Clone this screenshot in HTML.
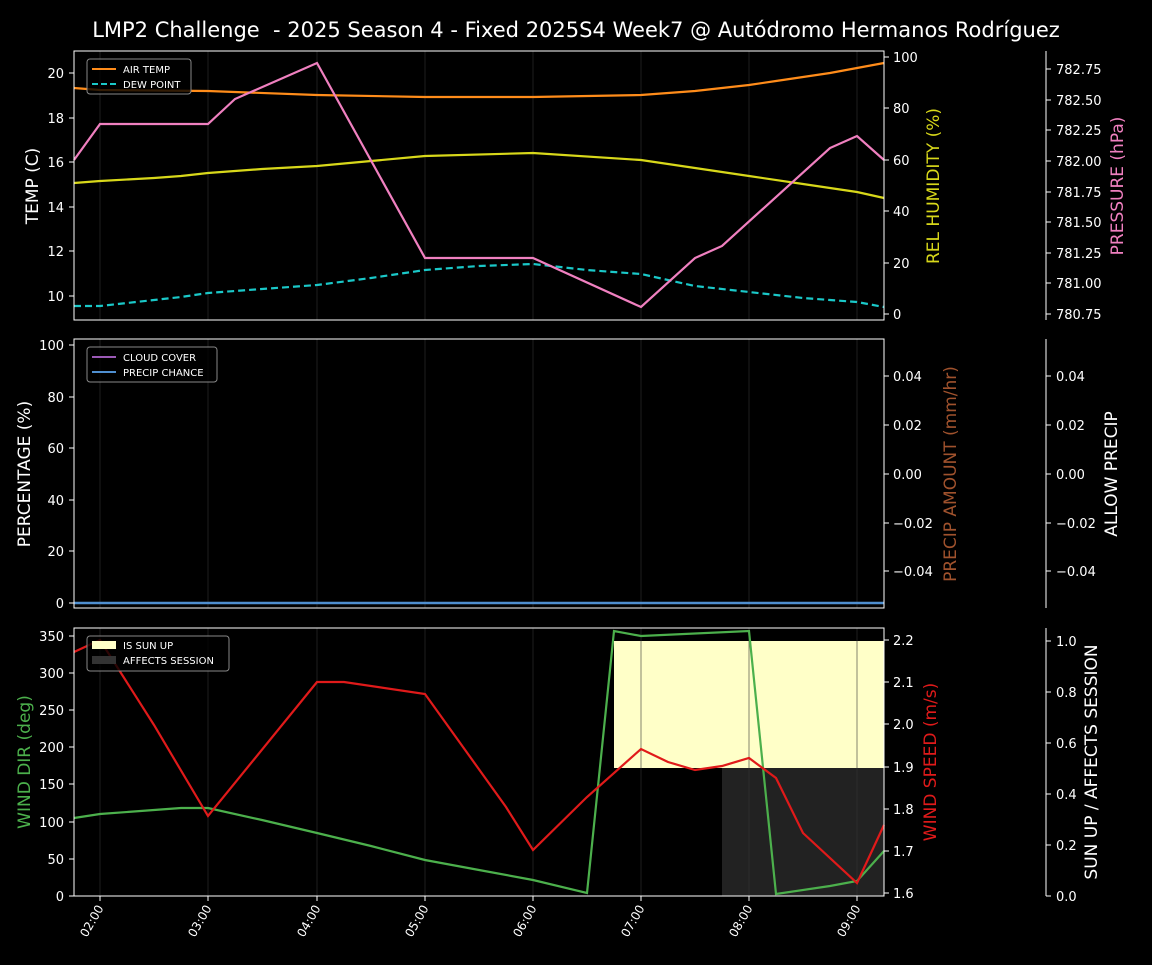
<!DOCTYPE html>
<html><head><meta charset="utf-8"><style>
html,body{margin:0;padding:0;background:#000;}
svg text{font-family:"DejaVu Sans","Liberation Sans",sans-serif;}
</style></head><body>
<svg width="1152" height="960" xmlns="http://www.w3.org/2000/svg">
<rect width="1152" height="960" fill="#000"/>
<text x="576" y="37" fill="#fff" font-size="21" text-anchor="middle" style="white-space:pre">LMP2 Challenge  - 2025 Season 4 - Fixed 2025S4 Week7 @ Autódromo Hermanos Rodríguez</text>

<g stroke="#333" stroke-width="1" opacity="0.6">
<line x1="100" y1="51" x2="100" y2="320"/><line x1="208" y1="51" x2="208" y2="320"/><line x1="317" y1="51" x2="317" y2="320"/><line x1="425" y1="51" x2="425" y2="320"/><line x1="533" y1="51" x2="533" y2="320"/><line x1="641" y1="51" x2="641" y2="320"/><line x1="749" y1="51" x2="749" y2="320"/><line x1="857" y1="51" x2="857" y2="320"/>
<line x1="100" y1="339" x2="100" y2="608"/><line x1="208" y1="339" x2="208" y2="608"/><line x1="317" y1="339" x2="317" y2="608"/><line x1="425" y1="339" x2="425" y2="608"/><line x1="533" y1="339" x2="533" y2="608"/><line x1="641" y1="339" x2="641" y2="608"/><line x1="749" y1="339" x2="749" y2="608"/><line x1="857" y1="339" x2="857" y2="608"/>
</g>

<g fill="none" stroke-width="2.2">
<polyline stroke="#ff8c1a" points="74,88 100,90 208,91 317,95 425,97 533,97 641,95 695,91 749,85 776,81 830,73 857,68 884,63"/>
<polyline stroke="#d8d81a" points="74,183 100,181 154,178 181,176 208,173 262,169 317,166 371,161 425,156 533,153 641,160 695,168 749,176 803,184 830,188 857,192 884,198"/>
<polyline stroke="#1ac8c8" stroke-dasharray="7,4" points="74,306 100,306 154,300 181,297 208,293 262,289 317,285 371,278 425,270 479,266 533,264 587,270 641,274 695,286 749,292 803,298 830,300 857,302 884,307"/>
<polyline stroke="#f080c0" points="74,160 100,124 208,124 235,99 317,63 425,258 533,258 641,307 695,258 722,246 830,148 857,136 884,160"/>
</g>
<rect x="74" y="51" width="810" height="269" fill="none" stroke="#fff" stroke-width="1"/>
<g fill="#fff" font-size="13" text-anchor="end">
<text x="64" y="78">20</text><text x="64" y="123">18</text><text x="64" y="167">16</text><text x="64" y="212">14</text><text x="64" y="256">12</text><text x="64" y="301">10</text>
</g>
<g stroke="#fff"><line x1="69" y1="73" x2="74" y2="73"/><line x1="69" y1="118" x2="74" y2="118"/><line x1="69" y1="162" x2="74" y2="162"/><line x1="69" y1="207" x2="74" y2="207"/><line x1="69" y1="251" x2="74" y2="251"/><line x1="69" y1="296" x2="74" y2="296"/>
<line x1="884" y1="57" x2="889" y2="57"/><line x1="884" y1="108" x2="889" y2="108"/><line x1="884" y1="160" x2="889" y2="160"/><line x1="884" y1="211" x2="889" y2="211"/><line x1="884" y1="263" x2="889" y2="263"/><line x1="884" y1="314" x2="889" y2="314"/>
<line x1="1046" y1="51" x2="1046" y2="320"/>
<line x1="1046" y1="69" x2="1051" y2="69"/><line x1="1046" y1="100" x2="1051" y2="100"/><line x1="1046" y1="130" x2="1051" y2="130"/><line x1="1046" y1="161" x2="1051" y2="161"/><line x1="1046" y1="192" x2="1051" y2="192"/><line x1="1046" y1="222" x2="1051" y2="222"/><line x1="1046" y1="253" x2="1051" y2="253"/><line x1="1046" y1="283" x2="1051" y2="283"/><line x1="1046" y1="314" x2="1051" y2="314"/>
</g>
<g fill="#fff" font-size="13">
<text x="893" y="62">100</text><text x="893" y="113">80</text><text x="893" y="165">60</text><text x="893" y="216">40</text><text x="893" y="268">20</text><text x="893" y="319">0</text>
<text x="1056" y="74">782.75</text><text x="1056" y="105">782.50</text><text x="1056" y="135">782.25</text><text x="1056" y="166">782.00</text><text x="1056" y="197">781.75</text><text x="1056" y="227">781.50</text><text x="1056" y="258">781.25</text><text x="1056" y="288">781.00</text><text x="1056" y="319">780.75</text>
</g>
<text transform="translate(38,186) rotate(-90)" fill="#fff" font-size="17" text-anchor="middle">TEMP (C)</text>
<text transform="translate(939,186) rotate(-90)" fill="#d8d81a" font-size="17" text-anchor="middle">REL HUMIDITY (%)</text>
<text transform="translate(1123,186) rotate(-90)" fill="#f080c0" font-size="17" text-anchor="middle">PRESSURE (hPa)</text>
<rect x="87" y="59" width="104" height="35" rx="3" fill="#000" fill-opacity="0.8" stroke="#888"/>
<line x1="92" y1="69" x2="116" y2="69" stroke="#ff8c1a" stroke-width="2"/>
<line x1="92" y1="84" x2="116" y2="84" stroke="#1ac8c8" stroke-width="2" stroke-dasharray="6,3"/>
<g fill="#fff" font-size="10"><text x="123" y="73">AIR TEMP</text><text x="123" y="88">DEW POINT</text></g>

<line x1="74" y1="603" x2="884" y2="603" stroke="#4f8fd0" stroke-width="2.5"/>
<rect x="74" y="339" width="810" height="269" fill="none" stroke="#fff"/>
<g stroke="#fff">
<line x1="69" y1="345" x2="74" y2="345"/><line x1="69" y1="397" x2="74" y2="397"/><line x1="69" y1="448" x2="74" y2="448"/><line x1="69" y1="500" x2="74" y2="500"/><line x1="69" y1="551" x2="74" y2="551"/><line x1="69" y1="603" x2="74" y2="603"/>
<line x1="884" y1="376" x2="889" y2="376"/><line x1="884" y1="425" x2="889" y2="425"/><line x1="884" y1="474" x2="889" y2="474"/><line x1="884" y1="523" x2="889" y2="523"/><line x1="884" y1="571" x2="889" y2="571"/>
<line x1="1046" y1="339" x2="1046" y2="608"/>
<line x1="1046" y1="376" x2="1051" y2="376"/><line x1="1046" y1="425" x2="1051" y2="425"/><line x1="1046" y1="474" x2="1051" y2="474"/><line x1="1046" y1="523" x2="1051" y2="523"/><line x1="1046" y1="571" x2="1051" y2="571"/>
</g>
<g fill="#fff" font-size="13" text-anchor="end">
<text x="64" y="350">100</text><text x="64" y="402">80</text><text x="64" y="453">60</text><text x="64" y="505">40</text><text x="64" y="556">20</text><text x="64" y="608">0</text>
</g>
<g fill="#fff" font-size="13">
<text x="893" y="381">0.04</text><text x="893" y="430">0.02</text><text x="893" y="479">0.00</text><text x="893" y="528">−0.02</text><text x="893" y="576">−0.04</text>
<text x="1056" y="381">0.04</text><text x="1056" y="430">0.02</text><text x="1056" y="479">0.00</text><text x="1056" y="528">−0.02</text><text x="1056" y="576">−0.04</text>
</g>
<text transform="translate(30,474) rotate(-90)" fill="#fff" font-size="17" text-anchor="middle">PERCENTAGE (%)</text>
<text transform="translate(956,474) rotate(-90)" fill="#a0522d" font-size="17" text-anchor="middle">PRECIP AMOUNT (mm/hr)</text>
<text transform="translate(1117,474) rotate(-90)" fill="#fff" font-size="17" text-anchor="middle">ALLOW PRECIP</text>
<rect x="87" y="347" width="130" height="35" rx="3" fill="#000" fill-opacity="0.8" stroke="#888"/>
<line x1="92" y1="357" x2="116" y2="357" stroke="#9b59b6" stroke-width="2"/>
<line x1="92" y1="372" x2="116" y2="372" stroke="#4f8fd0" stroke-width="2"/>
<g fill="#fff" font-size="10"><text x="123" y="361">CLOUD COVER</text><text x="123" y="376">PRECIP CHANCE</text></g>

<rect x="614" y="641" width="270" height="127" fill="#ffffc8"/>
<rect x="722" y="768" width="162" height="128" fill="#222"/>
<g stroke="#333" opacity="0.6">
<line x1="100" y1="628" x2="100" y2="896"/><line x1="208" y1="628" x2="208" y2="896"/><line x1="317" y1="628" x2="317" y2="896"/><line x1="425" y1="628" x2="425" y2="896"/><line x1="533" y1="628" x2="533" y2="896"/><line x1="641" y1="628" x2="641" y2="896"/><line x1="749" y1="628" x2="749" y2="896"/><line x1="857" y1="628" x2="857" y2="896"/>
</g>
<g fill="none" stroke-width="2.2">
<polyline stroke="#4cb04c" points="74,818 100,814 154,810 181,808 208,808 262,820 317,833 371,846 425,860 479,870 533,880 587,893 614,631 641,636 749,631 776,894 830,886 857,881 884,851"/>
<polyline stroke="#e01a1a" points="74,652 100,640 154,725 208,816 317,682 344,682 425,694 506,807 533,850 587,797 641,749 668,762 695,770 722,766 749,758 776,778 803,833 857,883 884,825"/>
</g>
<rect x="74" y="628" width="810" height="268" fill="none" stroke="#fff"/>
<g stroke="#fff">
<line x1="69" y1="636" x2="74" y2="636"/><line x1="69" y1="673" x2="74" y2="673"/><line x1="69" y1="710" x2="74" y2="710"/><line x1="69" y1="747" x2="74" y2="747"/><line x1="69" y1="784" x2="74" y2="784"/><line x1="69" y1="822" x2="74" y2="822"/><line x1="69" y1="859" x2="74" y2="859"/><line x1="69" y1="896" x2="74" y2="896"/>
<line x1="884" y1="640" x2="889" y2="640"/><line x1="884" y1="682" x2="889" y2="682"/><line x1="884" y1="724" x2="889" y2="724"/><line x1="884" y1="767" x2="889" y2="767"/><line x1="884" y1="809" x2="889" y2="809"/><line x1="884" y1="851" x2="889" y2="851"/><line x1="884" y1="893" x2="889" y2="893"/>
<line x1="1046" y1="628" x2="1046" y2="896"/>
<line x1="1046" y1="641" x2="1051" y2="641"/><line x1="1046" y1="692" x2="1051" y2="692"/><line x1="1046" y1="743" x2="1051" y2="743"/><line x1="1046" y1="794" x2="1051" y2="794"/><line x1="1046" y1="845" x2="1051" y2="845"/><line x1="1046" y1="896" x2="1051" y2="896"/>
<line x1="100" y1="896" x2="100" y2="901"/><line x1="208" y1="896" x2="208" y2="901"/><line x1="317" y1="896" x2="317" y2="901"/><line x1="425" y1="896" x2="425" y2="901"/><line x1="533" y1="896" x2="533" y2="901"/><line x1="641" y1="896" x2="641" y2="901"/><line x1="749" y1="896" x2="749" y2="901"/><line x1="857" y1="896" x2="857" y2="901"/>
</g>
<g fill="#fff" font-size="13" text-anchor="end">
<text x="64" y="641">350</text><text x="64" y="678">300</text><text x="64" y="715">250</text><text x="64" y="752">200</text><text x="64" y="789">150</text><text x="64" y="827">100</text><text x="64" y="864">50</text><text x="64" y="901">0</text>
</g>
<g fill="#fff" font-size="13">
<text x="893" y="645">2.2</text><text x="893" y="687">2.1</text><text x="893" y="729">2.0</text><text x="893" y="772">1.9</text><text x="893" y="814">1.8</text><text x="893" y="856">1.7</text><text x="893" y="898">1.6</text>
<text x="1056" y="646">1.0</text><text x="1056" y="697">0.8</text><text x="1056" y="748">0.6</text><text x="1056" y="799">0.4</text><text x="1056" y="850">0.2</text><text x="1056" y="901">0.0</text>
</g>
<g fill="#fff" font-size="12" text-anchor="end">
<text transform="translate(104,908) rotate(-60)">02:00</text><text transform="translate(212,908) rotate(-60)">03:00</text><text transform="translate(321,908) rotate(-60)">04:00</text><text transform="translate(429,908) rotate(-60)">05:00</text><text transform="translate(537,908) rotate(-60)">06:00</text><text transform="translate(645,908) rotate(-60)">07:00</text><text transform="translate(753,908) rotate(-60)">08:00</text><text transform="translate(861,908) rotate(-60)">09:00</text>
</g>
<text transform="translate(30,762) rotate(-90)" fill="#4cb04c" font-size="17" text-anchor="middle">WIND DIR (deg)</text>
<text transform="translate(936,762) rotate(-90)" fill="#e01a1a" font-size="17" text-anchor="middle">WIND SPEED (m/s)</text>
<text transform="translate(1097,762) rotate(-90)" fill="#fff" font-size="17" text-anchor="middle">SUN UP / AFFECTS SESSION</text>
<rect x="87" y="636" width="142" height="35" rx="3" fill="#000" fill-opacity="0.8" stroke="#888"/>
<rect x="92" y="641" width="24" height="8" fill="#ffffc8"/>
<rect x="92" y="656" width="24" height="8" fill="#333"/>
<g fill="#fff" font-size="10"><text x="123" y="649">IS SUN UP</text><text x="123" y="664">AFFECTS SESSION</text></g>
</svg>
</body></html>
